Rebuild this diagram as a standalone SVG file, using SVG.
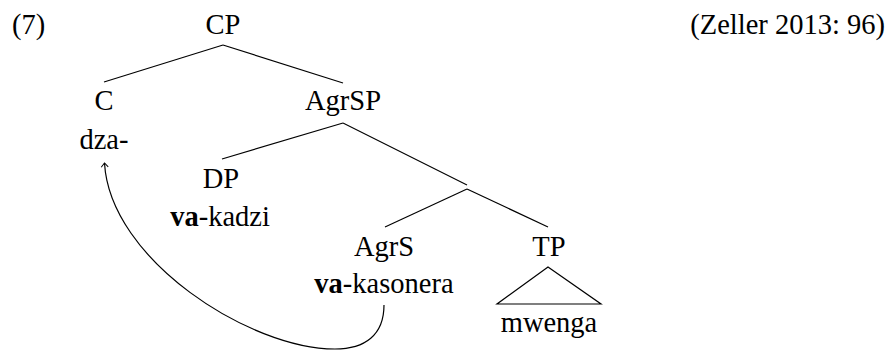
<svg xmlns="http://www.w3.org/2000/svg" width="890" height="350" viewBox="0 0 890 350">
<defs>
<style>
text{font-size:28.5px;fill:#000;text-anchor:middle}
.l{text-anchor:start}
.e{text-anchor:end}
.ln{stroke:#000;stroke-width:1.2;fill:none}
</style>
<marker id="ah" markerWidth="10" markerHeight="10" refX="5" refY="5" orient="auto" markerUnits="userSpaceOnUse" viewBox="0 0 10 10">
<path d="M1,1.5 L5,5 L1,8.5" fill="none" stroke="#000" stroke-width="1"/>
</marker>
</defs>
<rect width="890" height="350" fill="#fff"/>
<g font-family="'Liberation Serif', 'Times New Roman', serif">
<text class="l" x="12" y="34">(7)</text>
<text class="e" x="885" y="34">(Zeller 2013: 96)</text>
<g id="connectors">
<line class="ln" x1="223" y1="45" x2="104" y2="82"/>
<line class="ln" x1="223" y1="45" x2="343" y2="83"/>
<line class="ln" x1="343" y1="123" x2="222" y2="159"/>
<line class="ln" x1="343" y1="123" x2="467" y2="185"/>
<line class="ln" x1="467" y1="189" x2="385" y2="227"/>
<line class="ln" x1="467" y1="189" x2="548" y2="227"/>
<path class="ln" d="M384,305 C384,335 365,349 335,349 C250,349 110,260 104.5,163" marker-end="url(#ah)"/>
</g>
<g id="CP"><text x="223" y="34">CP</text></g>
<g id="C"><text x="104" y="110">C</text><text x="104" y="149">dza-</text></g>
<g id="AgrSP"><text x="343" y="110">AgrSP</text></g>
<g id="DP"><text x="221" y="188">DP</text><text x="220" y="226"><tspan font-weight="bold">va</tspan>-kadzi</text></g>
<g id="AgrS"><text x="384" y="256">AgrS</text><text x="384" y="293"><tspan font-weight="bold">va</tspan>-kasonera</text></g>
<g id="TP"><text x="549" y="256">TP</text>
<polygon class="ln" points="548,267 497,304 601,304"/>
<text x="549" y="332">mwenga</text></g>
</g>
</svg>
